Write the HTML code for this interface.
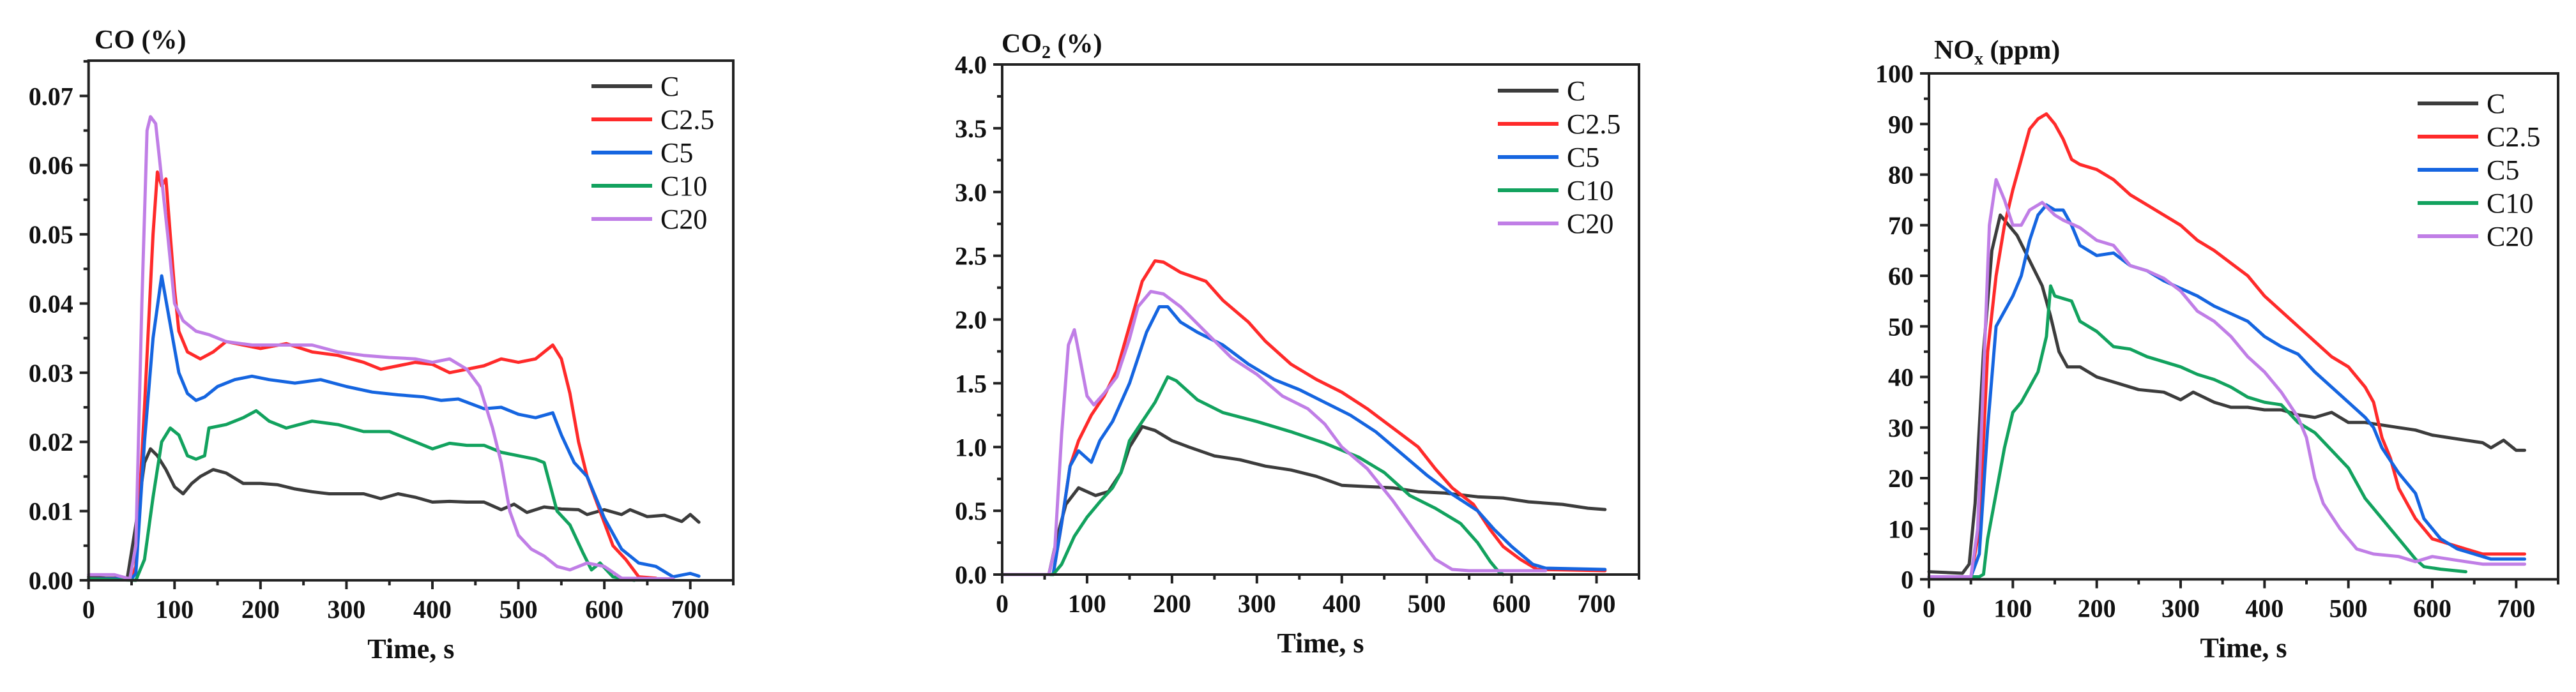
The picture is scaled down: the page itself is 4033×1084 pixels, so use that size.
<!DOCTYPE html>
<html><head><meta charset="utf-8"><style>
html,body{margin:0;padding:0;background:#fff;}
svg{display:block;font-family:"Liberation Serif",serif;}
</style></head><body>
<svg id="fig" width="4033" height="1084" viewBox="0 0 4033 1084" xmlns="http://www.w3.org/2000/svg"></svg>
<script>
const seriesNames = ["C","C2.5","C5","C10","C20"];
const seriesColors = ["#3c3c3c","#ff2a2a","#1565e0","#12a25e","#c07ee6"];

// ---- CO (%) ----
const coC = [[0,0.0005],[20,0.0003],[45,0.0003],[55,0.008],[65,0.017],[72,0.019],[80,0.018],[90,0.016],[100,0.0135],[110,0.0125],[120,0.014],[130,0.015],[145,0.016],[160,0.0155],[180,0.014],[200,0.014],[220,0.0138],[240,0.0132],[260,0.0128],[280,0.0125],[300,0.0125],[320,0.0125],[340,0.0118],[360,0.0125],[380,0.012],[400,0.0113],[420,0.0114],[440,0.0113],[460,0.0113],[480,0.0102],[495,0.011],[510,0.0098],[530,0.0106],[550,0.0103],[570,0.0102],[580,0.0095],[600,0.0102],[620,0.0095],[630,0.0102],[650,0.0092],[670,0.0094],[690,0.0085],[700,0.0095],[710,0.0084]];
const coC25 = [[0,0.0002],[50,0.0002],[55,0.002],[65,0.025],[75,0.05],[80,0.059],[85,0.057],[90,0.058],[95,0.05],[100,0.042],[105,0.036],[115,0.033],[130,0.032],[145,0.033],[160,0.0345],[180,0.034],[200,0.0335],[230,0.0342],[260,0.033],[290,0.0325],[320,0.0315],[340,0.0305],[360,0.031],[380,0.0315],[400,0.0312],[420,0.030],[440,0.0305],[460,0.031],[480,0.032],[500,0.0315],[520,0.032],[540,0.034],[550,0.032],[560,0.027],[570,0.02],[580,0.015],[595,0.01],[610,0.005],[625,0.003],[640,0.0005],[660,0.0003]];
const coC5 = [[0,0.0002],[50,0.0002],[55,0.001],[65,0.02],[75,0.035],[85,0.044],[95,0.037],[105,0.03],[115,0.027],[125,0.026],[135,0.0265],[150,0.028],[170,0.029],[190,0.0295],[210,0.029],[240,0.0285],[270,0.029],[300,0.028],[330,0.0272],[360,0.0268],[390,0.0265],[410,0.026],[430,0.0262],[460,0.0248],[480,0.025],[500,0.024],[520,0.0235],[540,0.0242],[550,0.021],[565,0.017],[580,0.015],[600,0.009],[620,0.0045],[640,0.0025],[660,0.002],[680,0.0005],[700,0.001],[710,0.0006]];
const coC10 = [[0,0.0002],[55,0],[65,0.003],[75,0.012],[85,0.02],[95,0.022],[105,0.021],[115,0.018],[125,0.0175],[135,0.018],[140,0.022],[160,0.0225],[180,0.0235],[195,0.0245],[210,0.023],[230,0.022],[260,0.023],[290,0.0225],[320,0.0215],[350,0.0215],[380,0.02],[400,0.019],[420,0.0198],[440,0.0195],[460,0.0195],[480,0.0185],[500,0.018],[520,0.0175],[530,0.017],[545,0.01],[560,0.008],[575,0.004],[585,0.0015],[595,0.0025],[610,0.0005],[635,0]];
const coC20 = [[0,0.0008],[30,0.0008],[48,0.0002],[55,0.005],[62,0.04],[68,0.065],[72,0.067],[78,0.066],[85,0.058],[92,0.05],[100,0.04],[110,0.0375],[125,0.036],[140,0.0355],[160,0.0345],[190,0.034],[220,0.034],[260,0.034],[290,0.033],[320,0.0325],[350,0.0322],[380,0.032],[400,0.0315],[420,0.032],[440,0.0305],[455,0.028],[470,0.022],[480,0.017],[490,0.01],[500,0.0065],[515,0.0045],[530,0.0035],[545,0.002],[560,0.0015],[580,0.0025],[600,0.002],[620,0.0003],[680,0.0002]];
const coYTicks = ["0.00","0.01","0.02","0.03","0.04","0.05","0.06","0.07"];

// ---- CO2 (%) ----
const co2C = [[0,0],[55,0],[65,0.3],[75,0.55],[90,0.68],[100,0.65],[110,0.62],[125,0.65],[140,0.8],[150,1.0],[165,1.16],[180,1.13],[200,1.05],[220,1.0],[250,0.93],[280,0.9],[310,0.85],[340,0.82],[370,0.77],[400,0.7],[430,0.69],[460,0.68],[490,0.65],[520,0.64],[560,0.61],[590,0.6],[620,0.57],[660,0.55],[690,0.52],[710,0.51]];
const co2C25 = [[0,0],[60,0],[70,0.4],[80,0.85],[90,1.05],[105,1.25],[120,1.4],[135,1.6],[150,1.95],[165,2.3],[180,2.46],[190,2.45],[210,2.37],[240,2.3],[260,2.15],[290,1.98],[310,1.83],[340,1.65],[370,1.53],[400,1.43],[430,1.3],[460,1.15],[490,1.0],[510,0.83],[530,0.68],[555,0.55],[575,0.35],[590,0.22],[610,0.12],[630,0.04],[710,0.03]];
const co2C5 = [[0,0],[60,0],[70,0.4],[80,0.85],[90,0.97],[105,0.88],[115,1.05],[130,1.2],[150,1.5],[170,1.9],[185,2.1],[195,2.1],[210,1.98],[230,1.9],[260,1.8],[290,1.65],[320,1.53],[350,1.45],[380,1.35],[410,1.25],[440,1.12],[470,0.95],[500,0.78],[530,0.63],[560,0.5],[580,0.35],[600,0.22],[625,0.08],[640,0.05],[710,0.04]];
const co2C10 = [[0,0],[60,0],[70,0.08],[85,0.3],[100,0.45],[115,0.57],[130,0.68],[140,0.8],[150,1.05],[165,1.2],[180,1.35],[195,1.55],[205,1.52],[230,1.37],[260,1.27],[300,1.2],[340,1.12],[380,1.03],[420,0.92],[450,0.8],[480,0.62],[510,0.52],[540,0.4],[560,0.25],[575,0.1],[585,0.02],[590,0.0]];
const co2C20 = [[0,0],[55,0],[62,0.2],[70,1.1],[78,1.8],[85,1.92],[90,1.75],[100,1.4],[108,1.33],[120,1.42],[135,1.55],[150,1.85],[160,2.1],[175,2.22],[190,2.2],[210,2.1],[240,1.9],[270,1.7],[300,1.57],[330,1.4],[360,1.3],[380,1.18],[400,1.0],[430,0.83],[460,0.58],[490,0.3],[510,0.12],[530,0.04],[550,0.03],[640,0.03]];
const co2YTicks = ["0.0","0.5","1.0","1.5","2.0","2.5","3.0","3.5","4.0"];

// ---- NOx (ppm) ----
const noxC = [[0,1.5],[40,1.2],[48,3],[55,15],[65,45],[75,65],[85,72],[95,70],[105,68],[120,63],[135,58],[145,52],[155,45],[165,42],[180,42],[200,40],[220,39],[250,37.5],[280,37],[300,35.5],[315,37],[340,35],[360,34],[380,34],[400,33.5],[420,33.5],[440,32.5],[460,32],[480,33],[500,31],[520,31],[540,30.5],[560,30],[580,29.5],[600,28.5],[620,28],[640,27.5],[660,27],[670,26],[685,27.5],[700,25.5],[710,25.5]];
const noxC25 = [[0,0.5],[50,0.5],[60,10],[70,45],[80,60],[90,70],[100,77],[110,83],[120,89],[130,91],[140,92],[150,90],[160,87],[170,83],[180,82],[200,81],[220,79],[240,76],[260,74],[280,72],[300,70],[320,67],[340,65],[360,62.5],[380,60],[400,56],[420,53],[440,50],[460,47],[480,44],[500,42],[520,38],[530,35],[540,28],[550,24],[560,18],[580,12],[600,8],[620,7],[640,6],[660,5],[680,5],[710,5]];
const noxC5 = [[0,0.5],[50,0.5],[60,5],[70,30],[80,50],[90,53],[100,56],[110,60],[120,67],[130,72],[140,74],[150,73],[160,73],[170,70],[180,66],[200,64],[220,64.5],[240,62],[260,61],[280,59],[300,57.5],[320,56],[340,54],[360,52.5],[380,51],[400,48],[420,46],[440,44.5],[460,41],[480,38],[500,35],[520,32],[530,30],[540,26],[560,21],[580,17],[590,12],[610,8],[630,6],[650,5],[670,4],[710,4]];
const noxC10 = [[0,0.5],[60,0.5],[65,1],[70,8],[80,17],[90,26],[100,33],[110,35],[120,38],[130,41],[140,48],[145,58],[150,56],[170,55],[180,51],[200,49],[220,46],[240,45.5],[260,44],[280,43],[300,42],[320,40.5],[340,39.5],[360,38],[380,36],[400,35],[420,34.5],[440,31],[460,29],[480,25.5],[500,22],[520,16],[540,12],[560,8],[580,4],[590,2.5],[610,2],[640,1.5]];
const noxC20 = [[0,0.5],[50,0.5],[58,10],[65,40],[72,70],[80,79],[90,75],[100,70],[110,70],[120,73],[135,74.5],[150,72],[160,71],[180,69.5],[200,67],[220,66],[240,62],[260,61],[280,59.5],[300,57],[320,53],[340,51],[360,48],[380,44],[400,41],[420,37],[440,32],[450,28],[460,20],[470,15],[490,10],[510,6],[530,5],[560,4.5],[580,3.5],[600,4.5],[620,4],[640,3.5],[660,3],[710,3]];
const noxYTicks = ["0","10","20","30","40","50","60","70","80","90","100"];

const xTicks = ["0","100","200","300","400","500","600","700"];

const NS = "http://www.w3.org/2000/svg";
const svg = document.getElementById("fig");
function mk(tag, attrs, parent){
  const e = document.createElementNS(NS, tag);
  for (const k in attrs) e.setAttribute(k, attrs[k]);
  (parent||svg).appendChild(e);
  return e;
}

function drawChart(cfg){
  const g = mk("g", {});
  
  
  const L = cfg.left, R = cfg.right, T = cfg.top, B = cfg.bottom;
  const sx = t => L + (t - 0) / (750 - 0) * (R - L);
  const sy = v => B - (v - 0) / (cfg.ymax - 0) * (B - T);
  const sg = mk("g", {}, g);
  
  
  cfg.series.forEach((data, i) => {
    const d = data.map((p, j) => (j ? "L" : "M") + sx(p[0]).toFixed(1) + "," + sy(p[1]).toFixed(1)).join("");
    const path = mk("path", {d: d, fill: "none", stroke: seriesColors[i], "stroke-width": 5, "stroke-linejoin": "round", "stroke-linecap": "round"}, sg);
    
    
  });
  const fr = mk("rect", {x: L, y: T, width: R - L, height: B - T, fill: "none", stroke: "#222", "stroke-width": 4}, g);
  
  
  for (let t = 0; t <= 750; t += 50) {
    const major = t % 100 === 0;
    mk("line", {x1: sx(t), x2: sx(t), y1: B, y2: B + (major ? 14 : 8), stroke: "#222", "stroke-width": 4}, g);
  }
  xTicks.forEach(lbl => {
    const tx = mk("text", {x: sx(+lbl), y: B + 59, "font-size": 40, "font-weight": "bold", "text-anchor": "middle", fill: "#111"}, g);
    tx.textContent = lbl;
    
    
  });
  const step = cfg.ystep;
  for (let k = 0; k * step / 2 <= cfg.ymax + 1e-9; k++) {
    const v = k * step / 2;
    mk("line", {x1: L, x2: L - (k % 2 === 0 ? 14 : 8), y1: sy(v), y2: sy(v), stroke: "#222", "stroke-width": 4}, g);
  }
  cfg.yTicks.forEach(lbl => {
    const ty = mk("text", {x: L - 24, y: sy(+lbl) + 14, "font-size": 40, "font-weight": "bold", "text-anchor": "end", fill: "#111"}, g);
    ty.textContent = lbl;
    
    
  });
  const xt = mk("text", {x: (L + R) / 2, y: B + 122, "font-size": 44, "font-weight": "bold", "text-anchor": "middle", fill: "#111"}, g);
  xt.textContent = "Time, s";
  
  
  const yt = mk("text", {x: cfg.titleX, y: cfg.titleY, "font-size": 42, "font-weight": "bold", fill: "#111"}, g);
  yt.innerHTML = cfg.title;
  
  
  const lg = mk("g", {}, g);
  
  
  seriesNames.forEach((n, i) => {
    const y = cfg.legY + i * 52;
    const ln = mk("line", {x1: cfg.legX, x2: cfg.legX + 95, y1: y, y2: y, stroke: seriesColors[i], "stroke-width": 6}, lg);
    
    
    const lt = mk("text", {x: cfg.legX + 108, y: y + 15, "font-size": 44, fill: "#111"}, lg);
    lt.textContent = n;
    
    
  });
}

drawChart({name: "co-chart", left: 138.7, right: 1148, top: 95, bottom: 909, ymax: 0.0751, ystep: 0.01,
  yTicks: coYTicks, series: [coC, coC25, coC5, coC10, coC20],
  title: "CO (%)", titleX: 148, titleY: 76, legX: 926, legY: 135});
drawChart({name: "co2-chart", left: 1569, right: 2566, top: 101, bottom: 900, ymax: 4.0, ystep: 0.5,
  yTicks: co2YTicks, series: [co2C, co2C25, co2C5, co2C10, co2C20],
  title: 'CO<tspan font-size="28" dy="9">2</tspan><tspan dy="-9"> (%)</tspan>', titleX: 1568, titleY: 82, legX: 2345, legY: 142});
drawChart({name: "nox-chart", left: 3020, right: 4005, top: 115, bottom: 907.5, ymax: 100, ystep: 10,
  yTicks: noxYTicks, series: [noxC, noxC25, noxC5, noxC10, noxC20],
  title: 'NO<tspan font-size="28" dy="9">x</tspan><tspan dy="-9"> (ppm)</tspan>', titleX: 3028, titleY: 92, legX: 3785, legY: 162});
</script>
</body></html>
